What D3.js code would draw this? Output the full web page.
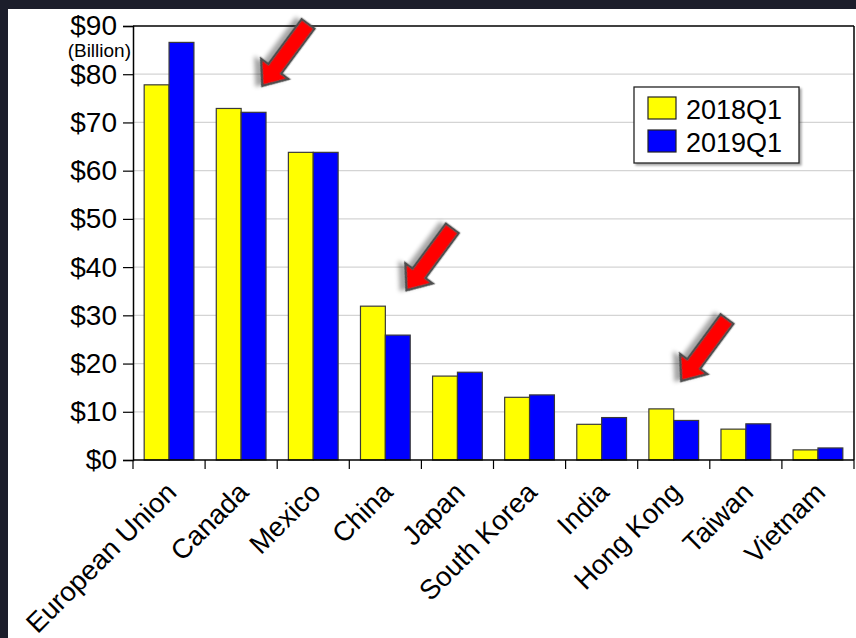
<!DOCTYPE html>
<html>
<head>
<meta charset="utf-8">
<script src="https://cdn.jsdelivr.net/npm/d3@7"></script>
<style>
  html, body { margin: 0; padding: 0; background: #1c1e2b; }
  svg { display: block; }
  text { font-family: "Liberation Sans", Arial, sans-serif; fill: #000; }
</style>
</head>
<body>
<svg id="chart" width="856" height="638"></svg>
<script>
// ---- data ----
const categories = ["European Union", "Canada", "Mexico", "China", "Japan",
                    "South Korea", "India", "Hong Kong", "Taiwan", "Vietnam"];
const seriesNames = ["2018Q1", "2019Q1"];
const values2018Q1 = [77.8, 72.9, 63.8, 31.9, 17.4, 13.0, 7.4, 10.6, 6.4, 2.1];
const values2019Q1 = [86.6, 72.1, 63.8, 25.9, 18.2, 13.5, 8.8, 8.2, 7.5, 2.5];
const yTickValues = [0, 10, 20, 30, 40, 50, 60, 70, 80, 90];
const yTickLabels = ["$0", "$10", "$20", "$30", "$40", "$50", "$60", "$70", "$80", "$90"];
const unitLabel = "(Billion)";
// annotation arrows: category pointed at and value of the arrow tip
const arrowCategories = ["Canada", "China", "Hong Kong"];
const arrowTipValues = [77.6, 35.2, 16.4];

(function () {
const seriesColors = ["#ffff00", "#0000ff"];

const svg = d3.select("#chart");
const W = 856, H = 638;
const margin = { left: 133, right: 2, top: 26, bottom: 178 };

// white panel
svg.append("rect").attr("x", 8).attr("y", 9).attr("width", W - 8).attr("height", H - 9).attr("fill", "#fff");

const defs = svg.append("defs");
const sh = defs.append("filter").attr("id", "shadow").attr("x", "-50%").attr("y", "-50%").attr("width", "200%").attr("height", "200%");
sh.append("feDropShadow").attr("dx", 3).attr("dy", 5).attr("stdDeviation", 2.2)
  .attr("flood-color", "#000").attr("flood-opacity", 0.35);
const sh2 = defs.append("filter").attr("id", "lshadow").attr("x", "-20%").attr("y", "-20%").attr("width", "140%").attr("height", "140%");
sh2.append("feDropShadow").attr("dx", 2).attr("dy", 2).attr("stdDeviation", 1)
  .attr("flood-color", "#000").attr("flood-opacity", 0.35);

const x0 = d3.scaleBand().domain(categories)
  .range([margin.left, W - margin.right]).paddingInner(0.31).paddingOuter(0.155);
const x1 = d3.scaleBand().domain(seriesNames).range([0, x0.bandwidth()]).padding(0);
const y = d3.scaleLinear().domain([0, 90]).range([H - margin.bottom, margin.top]);

const leftX = margin.left, rightX = W - margin.right, topY = y(90), bottomY = y(0);

// gridlines
svg.append("g").selectAll("line").data(yTickValues.filter(v => v > 0 && v < 90)).join("line")
  .attr("x1", leftX).attr("x2", rightX).attr("y1", d => y(d)).attr("y2", d => y(d))
  .attr("stroke", "#d4d4d4").attr("stroke-width", 1.2);

// bars
const data = categories.map((c, i) => ({ cat: c, vals: [values2018Q1[i], values2019Q1[i]] }));
const groups = svg.append("g").selectAll("g").data(data).join("g")
  .attr("transform", d => `translate(${x0(d.cat)},0)`);
groups.selectAll("rect").data(d => d.vals.map((v, j) => ({ v, s: seriesNames[j], j }))).join("rect")
  .attr("x", d => x1(d.s)).attr("width", x1.bandwidth())
  .attr("y", d => y(d.v)).attr("height", d => y(0) - y(d.v))
  .attr("fill", d => seriesColors[d.j]).attr("stroke", "#3a3a3a").attr("stroke-width", 1.2);

// frame (top and right)
svg.append("line").attr("x1", leftX).attr("x2", rightX).attr("y1", topY).attr("y2", topY)
  .attr("stroke", "#000").attr("stroke-width", 1.5);
svg.append("line").attr("x1", rightX).attr("x2", rightX).attr("y1", topY).attr("y2", bottomY)
  .attr("stroke", "#000").attr("stroke-width", 1.5);

// y axis
const yAxis = d3.axisLeft(y).tickValues(yTickValues).tickFormat((d, i) => yTickLabels[i]).tickSize(10).tickPadding(6);
const gy = svg.append("g").attr("transform", `translate(${leftX},0)`).call(yAxis);
gy.select(".domain").attr("stroke", "#000").attr("stroke-width", 1.5);
gy.selectAll(".tick line").attr("stroke", "#000").attr("stroke-width", 1.2);
gy.selectAll(".tick text").attr("font-size", 28).attr("font-family", "Liberation Sans, Arial, sans-serif").attr("fill", "#000");

svg.append("text").attr("x", leftX - 2).attr("y", 57).attr("text-anchor", "end")
  .attr("font-size", 19).text(unitLabel);

// x axis
const xAxisScale = d3.scalePoint().domain(d3.range(categories.length + 1)).range([leftX, rightX]);
svg.append("line").attr("x1", leftX).attr("x2", rightX).attr("y1", bottomY).attr("y2", bottomY)
  .attr("stroke", "#000").attr("stroke-width", 1.5);
svg.append("g").selectAll("line").data(d3.range(categories.length + 1)).join("line")
  .attr("x1", d => xAxisScale(d)).attr("x2", d => xAxisScale(d))
  .attr("y1", bottomY).attr("y2", bottomY + 9)
  .attr("stroke", "#000").attr("stroke-width", 1.2);
svg.append("g").selectAll("text").data(categories).join("text")
  .attr("transform", d => `translate(${x0(d) + x0.bandwidth() / 2 + 9},${bottomY + 34}) rotate(-45)`)
  .attr("text-anchor", "end").attr("font-size", 27.5).text(d => d);

// legend
const lg = svg.append("g").attr("transform", "translate(634,87)");
lg.append("rect").attr("width", 165).attr("height", 76).attr("fill", "#fff")
  .attr("stroke", "#222").attr("stroke-width", 1.3).attr("filter", "url(#lshadow)");
seriesNames.forEach((s, i) => {
  lg.append("rect").attr("x", 14).attr("y", 10 + i * 33).attr("width", 28).attr("height", 22)
    .attr("fill", seriesColors[i]).attr("stroke", "#222").attr("stroke-width", 1.2);
  lg.append("text").attr("x", 52).attr("y", 31.5 + i * 33).attr("font-size", 27).text(s);
});

// arrows
const L = 77, angle = 126.5;
const arrowShape = [[0, -8], [L - 21, -8], [L - 21, -17], [L, 0], [L - 21, 17], [L - 21, 8], [0, 8]];
arrowCategories.forEach((c, i) => {
  const tipX = x0(c) + x1("2019Q1") + (c === "Hong Kong" ? 0.3 : 0.85) * x1.bandwidth();
  const tipY = y(arrowTipValues[i]);
  const rad = angle * Math.PI / 180;
  const tailX = tipX - L * Math.cos(rad), tailY = tipY - L * Math.sin(rad);
  svg.append("path")
    .attr("d", d3.line()(arrowShape) + "Z")
    .attr("transform", `translate(${tailX},${tailY}) rotate(${angle})`)
    .attr("fill", "#ff0000").attr("stroke", "#4d4d4d").attr("stroke-width", 2.5)
    .attr("stroke-linejoin", "miter").attr("filter", "url(#shadow)");
});
})();
</script>
</body>
</html>
